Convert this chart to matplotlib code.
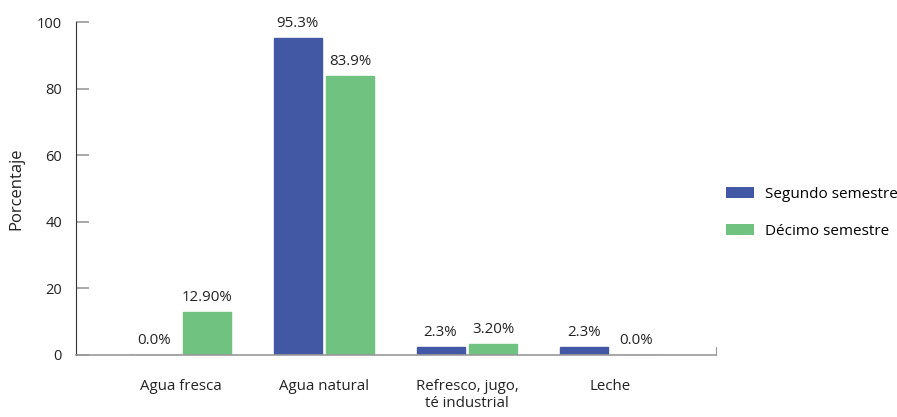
import matplotlib.pyplot as plt
from matplotlib.patches import Patch
import numpy as np

plt.rcParams['font.family'] = ['Open Sans', 'DejaVu Sans']

categories = ['Agua fresca', 'Agua natural', 'Refresco, jugo,\nté industrial', 'Leche']
segundo = [0.0, 95.3, 2.3, 2.3]
decimo = [12.9, 83.9, 3.2, 0.0]
segundo_labels = ['0.0%', '95.3%', '2.3%', '2.3%']
decimo_labels = ['12.90%', '83.9%', '3.20%', '0.0%']

blue = '#4358A5'
green = '#6FC27F'

fig = plt.figure(figsize=(8.97, 4.17), dpi=100)
ax = fig.add_axes([76 / 897, 62 / 417, 640 / 897, 333 / 417])

x = np.arange(len(categories))
w = 0.336
off = 0.185

b1 = ax.bar(x - off, segundo, w, color=blue,
            edgecolor=['#222222' if v == 0 else blue for v in segundo],
            linewidth=1.0)
b2 = ax.bar(x + off, decimo, w, color=green,
            edgecolor=['#999999' if v == 0 else green for v in decimo],
            linewidth=1.0)

for bars, labs in ((b1, segundo_labels), (b2, decimo_labels)):
    for bar, lab in zip(bars, labs):
        ax.annotate(lab, (bar.get_x() + bar.get_width() / 2, bar.get_height()),
                    xytext=(0, 5), textcoords='offset points',
                    ha='center', va='bottom', fontsize=10.8, color='#222222')

ax.set_xlim(-0.734, 3.741)
ax.set_ylim(0, 100)
ax.set_yticks([0, 20, 40, 60, 80, 100])
ax.set_xticks(x)
ax.set_xticklabels(categories, fontsize=10.8, color='#222222')
ax.tick_params(axis='x', length=0, pad=17)
ax.tick_params(axis='y', direction='in', length=9, width=1.2, color='#999999',
               pad=10, labelsize=10.5, labelcolor='#222222')
ax.set_ylabel('Porcentaje', fontsize=12, color='#222222', labelpad=9)

ax.spines['top'].set_visible(False)
ax.spines['left'].set_color('#333333')
ax.spines['bottom'].set_color('#999999')
ax.spines['bottom'].set_linewidth(1.2)
ax.spines['right'].set_color('#999999')
ax.spines['right'].set_bounds(0, 2.5)

handles = [Patch(facecolor=blue, label='Segundo semestre'),
           Patch(facecolor=green, label='Décimo semestre')]
fig.legend(handles=handles, loc='upper left', bbox_to_anchor=(712 / 897, 1 - 173 / 417),
           frameon=False, fontsize=11, handlelength=1.85, handleheight=0.72,
           labelspacing=1.45, handletextpad=0.7)

fig.savefig('out.png', dpi=100)
